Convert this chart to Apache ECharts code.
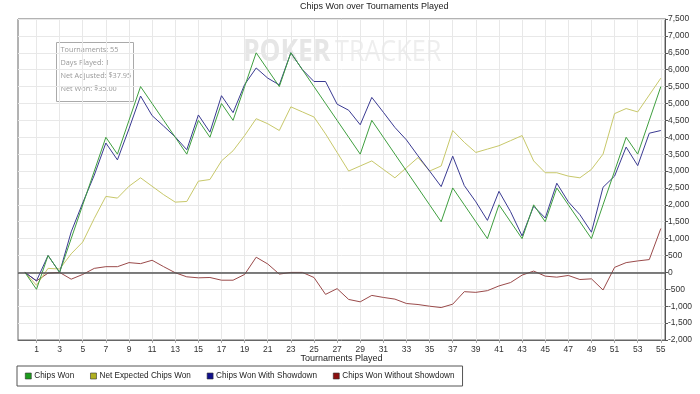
<!DOCTYPE html>
<html>
<head>
<meta charset="utf-8">
<script src="https://cdn.jsdelivr.net/npm/echarts@6/dist/echarts.min.js"></script>
<style>html,body{margin:0;padding:0;background:#fff;}#chart{width:700px;height:394px;}</style>
</head>
<body>
<div id="chart"></div>
<script>
var tournaments = [0,1,2,3,4,5,6,7,8,9,10,11,12,13,14,15,16,17,18,19,20,21,22,23,24,25,26,27,28,29,30,31,32,33,34,35,36,37,38,39,40,41,42,43,44,45,46,47,48,49,50,51,52,53,54,55];
var xTickValues = [1,3,5,7,9,11,13,15,17,19,21,23,25,27,29,31,33,35,37,39,41,43,45,47,49,51,53,55];
var chipsWon = [0,-500,500,0,1000,2000,3000,4000,3500,4500,5500,5000,4500,4000,3500,4500,4000,5000,4500,5500,6500,6000,5500,6500,6000,5500,5000,4500,4000,3500,4500,4000,3500,3000,2500,2000,1500,2500,2000,1500,1000,2000,1500,1000,2000,1500,2500,2000,1500,1000,2000,3000,4000,3500,4500,5500];
var netExpected = [0,-380,120,100,550,900,1600,2250,2200,2550,2800,2550,2300,2080,2100,2700,2750,3300,3600,4050,4550,4400,4200,4900,4750,4600,4100,3550,3000,3150,3300,3050,2800,3100,3400,3000,3150,4200,3850,3550,3650,3750,3900,4050,3300,2950,2950,2850,2800,3050,3500,4700,4850,4750,5250,5750];
var withShowdown = [0,-250,500,0,1200,2060,2880,3830,3330,4250,5220,4640,4330,4010,3630,4660,4150,5230,4730,5560,6050,5750,5550,6500,6000,5650,5650,4980,4800,4370,5180,4740,4290,3920,3450,3000,2540,3440,2570,2090,1540,2400,1800,1080,1960,1610,2640,2090,1710,1190,2520,2850,3710,3160,4120,4200];
var withoutShowdown = [0,-250,-20,0,-200,-60,120,170,170,290,260,360,170,-10,-130,-160,-150,-230,-230,-60,450,250,-50,0,0,-150,-650,-480,-800,-870,-680,-740,-790,-920,-950,-1000,-1040,-940,-570,-590,-540,-400,-300,-80,40,-110,-140,-90,-210,-190,-520,150,290,340,380,1300];
var infoLines = ['Tournaments: 55', 'Days Played: 1', 'Net Adjusted: $37.95', 'Net Won: $35.00'];

function pairs(vals) { return tournaments.map(function (t, i) { return [t, vals[i]]; }); }

var chart = echarts.init(document.getElementById('chart'), null, {renderer: 'canvas'});
var FONT = 'Liberation Sans';
chart.setOption({
  animation: false,
  backgroundColor: '#ffffff',
  title: {
    text: 'Chips Won over Tournaments Played',
    left: 300, top: 2, padding: 0,
    textStyle: {fontSize: 9, fontWeight: 'normal', color: '#222', fontFamily: FONT}
  },
  grid: {left: 18, right: 35, top: 19, bottom: 54, show: true, borderColor: '#666', borderWidth: 1, backgroundColor: 'transparent'},
  xAxis: {
    type: 'value', min: -0.6, max: 55.36,
    name: 'Tournaments Played', nameLocation: 'middle', nameGap: 14, nameMoveOverlap: false,
    nameTextStyle: {fontSize: 9, color: '#222', fontFamily: FONT},
    axisLine: {show: true, onZero: false, lineStyle: {color: '#666'}},
    axisTick: {show: true, length: 3, lineStyle: {color: '#aaa'}, customValues: xTickValues},
    axisLabel: {fontSize: 8.5, color: '#333', fontFamily: FONT, margin: 5, customValues: xTickValues},
    splitLine: {show: true, lineStyle: {color: '#e8e8e8', width: 1}}
  },
  yAxis: {
    type: 'value', position: 'right', min: -2000, max: 7500, interval: 500,
    axisLine: {show: true, onZero: false, lineStyle: {color: '#555'}},
    axisTick: {show: true, length: 3, lineStyle: {color: '#555'}},
    axisLabel: {fontSize: 8.5, color: '#333', fontFamily: FONT, margin: 3,
      formatter: function (v) { return v.toLocaleString('en-US'); }},
    splitLine: {show: true, lineStyle: {color: '#e8e8e8', width: 1}}
  },
  legend: {
    left: 17, top: 366, orient: 'horizontal',
    padding: [6, 8, 6, 8], itemGap: 16,
    borderColor: '#555', borderWidth: 1, backgroundColor: '#fff',
    itemWidth: 6, itemHeight: 6, icon: 'rect',
    textStyle: {fontSize: 8.2, color: '#222', fontFamily: FONT, padding: [0, 0, 0, -2]},
    data: [
      {name: 'Chips Won', itemStyle: {color: '#1c9c1c', borderColor: '#333', borderWidth: 0.6}},
      {name: 'Net Expected Chips Won', itemStyle: {color: '#b0b020', borderColor: '#333', borderWidth: 0.6}},
      {name: 'Chips Won With Showdown', itemStyle: {color: '#10108c', borderColor: '#333', borderWidth: 0.6}},
      {name: 'Chips Won Without Showdown', itemStyle: {color: '#8c1010', borderColor: '#333', borderWidth: 0.6}}
    ]
  },
  graphic: [
    {type: 'text', x: 243, y: 37, z: 0, silent: true, scaleX: 0.88,
      style: {text: 'POKER', fill: '#e6e6e6', font: 'bold 30px "Open Sans"'}},
    {type: 'text', x: 335, y: 37, z: 0, silent: true, scaleX: 0.84,
      style: {text: 'TRACKER', fill: '#eeeeee', font: '30px "Open Sans"'}},
    {type: 'group', left: 56, top: 42, z: 100, children: [
      {type: 'rect', shape: {x: 0, y: 0, width: 77, height: 59}, style: {fill: '#fff', stroke: '#aaa', lineWidth: 1}},
      {type: 'text', left: 4, top: 4, style: {text: infoLines[0], fill: '#999', font: '7.3px "Open Sans"'}},
      {type: 'text', left: 4, top: 17, style: {text: infoLines[1], fill: '#999', font: '7.3px "Open Sans"'}},
      {type: 'text', left: 4, top: 30, style: {text: infoLines[2], fill: '#999', font: '7.3px "Open Sans"'}},
      {type: 'text', left: 4, top: 43, style: {text: infoLines[3], fill: '#999', font: '7.3px "Open Sans"'}}
    ]}
  ],
  series: [
    {name: 'Chips Won Without Showdown', type: 'line', data: pairs(withoutShowdown), symbol: 'none',
      lineStyle: {color: '#9a4a4a', width: 1}, itemStyle: {color: '#8c1010'},
      markLine: {silent: true, symbol: 'none', label: {show: false},
        lineStyle: {color: '#555', width: 1.5, type: 'solid'}, data: [{yAxis: 0}]}},
    {name: 'Net Expected Chips Won', type: 'line', data: pairs(netExpected), symbol: 'none',
      lineStyle: {color: '#c8c86a', width: 1}, itemStyle: {color: '#b0b020'}},
    {name: 'Chips Won With Showdown', type: 'line', data: pairs(withShowdown), symbol: 'none',
      lineStyle: {color: '#3a3a92', width: 1}, itemStyle: {color: '#10108c'}},
    {name: 'Chips Won', type: 'line', data: pairs(chipsWon), symbol: 'none',
      lineStyle: {color: '#3f9f3f', width: 1}, itemStyle: {color: '#1c9c1c'}}
  ]
});
</script>
</body>
</html>
